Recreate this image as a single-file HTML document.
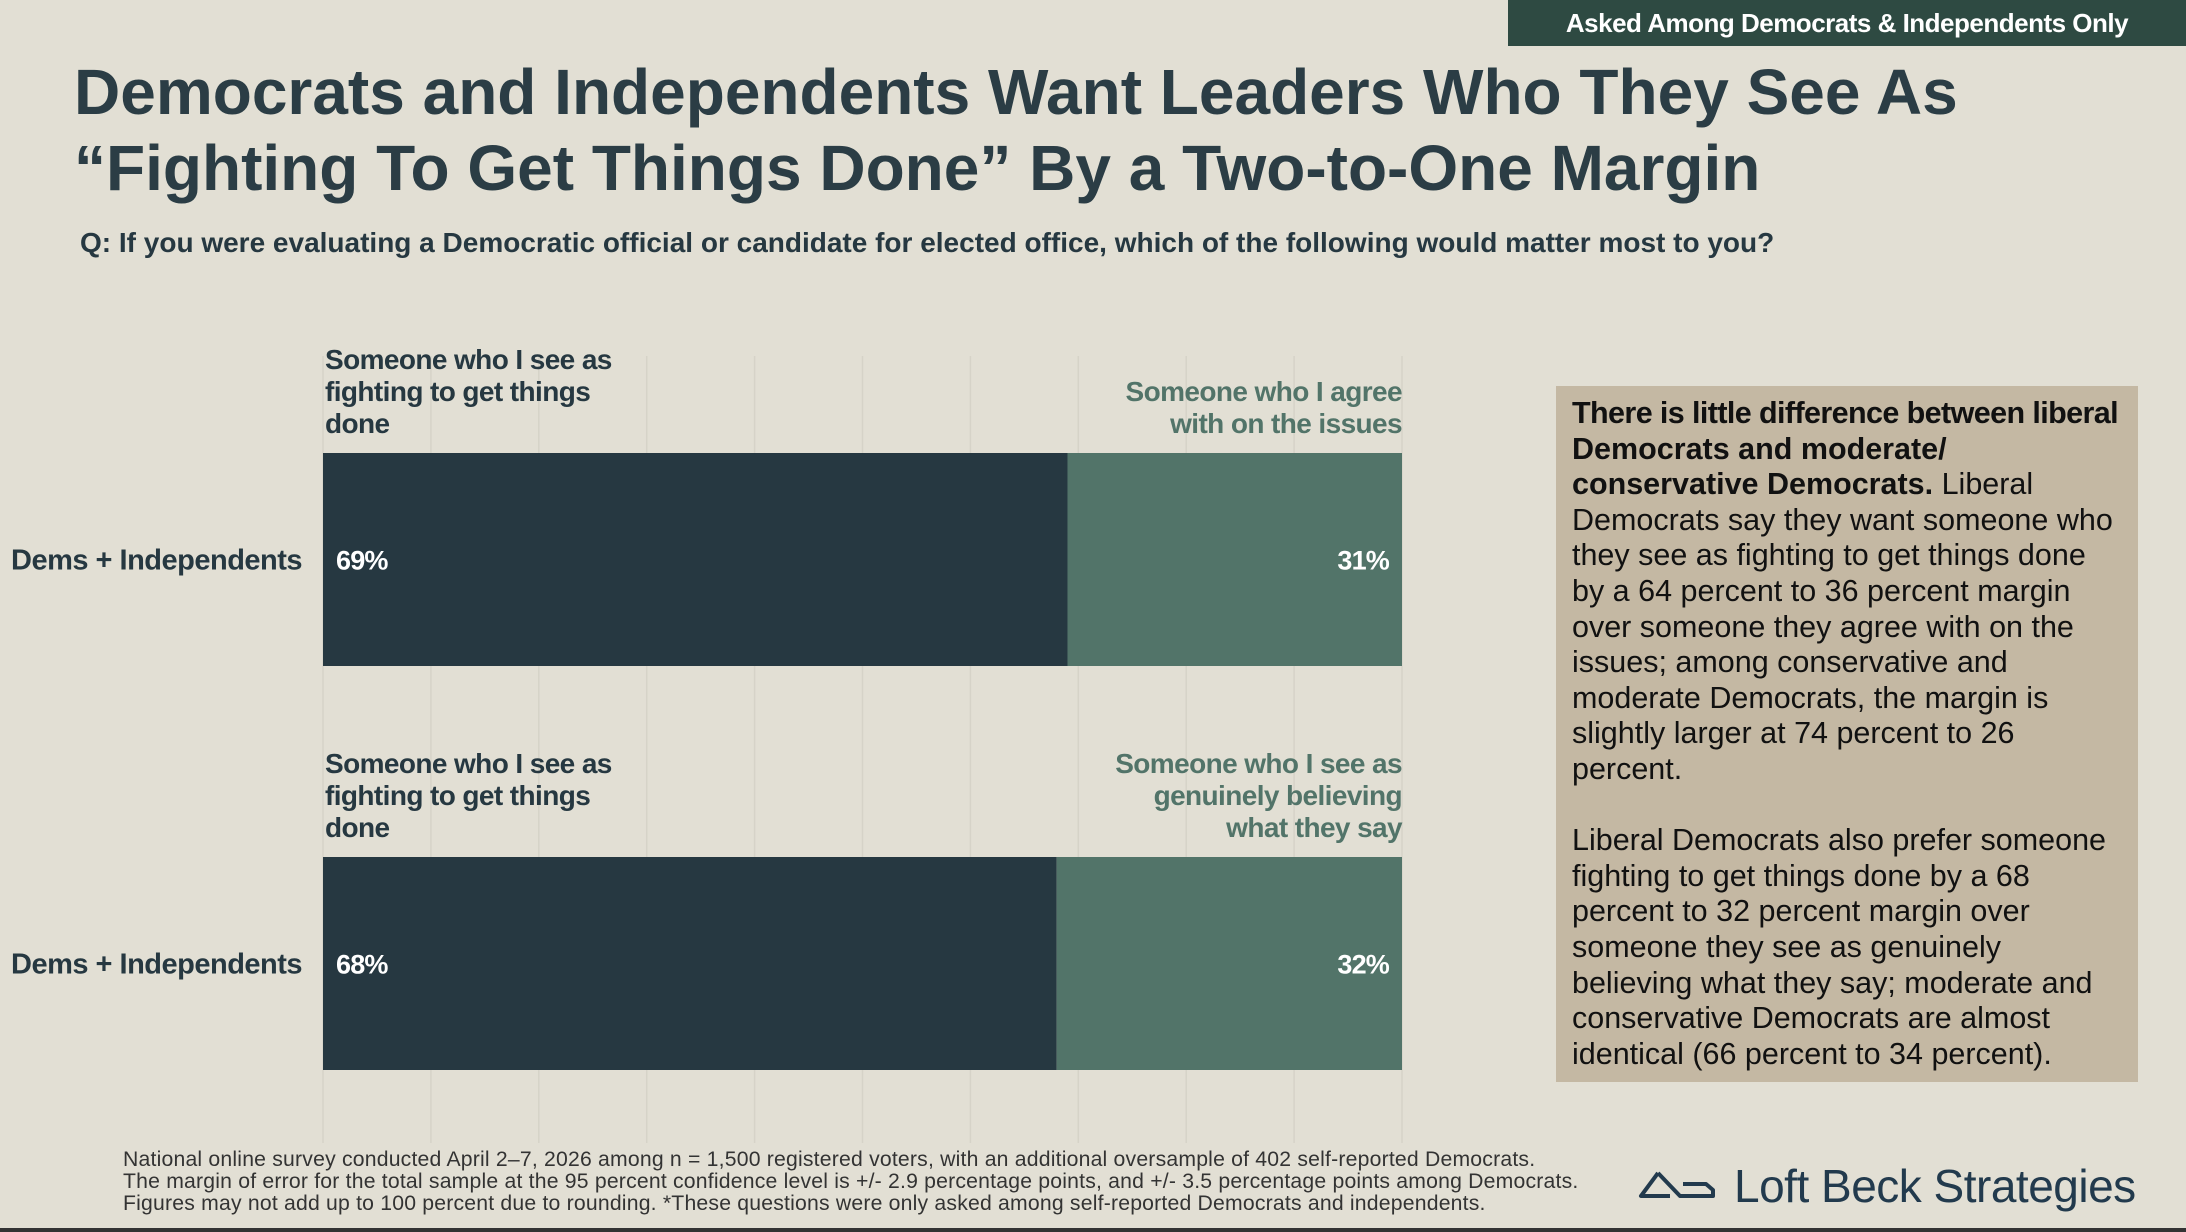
<!DOCTYPE html>
<html><head><meta charset="utf-8"><style>
body{margin:0;width:2186px;height:1232px;background:#e2dfd4;position:relative;overflow:hidden;font-family:"Liberation Sans",sans-serif;color:#263841}
.a{position:absolute}
.b{font-weight:bold}
</style></head><body>
<div class="a b" style="left:1508px;top:0;width:678px;height:46px;background:#2e4a42;color:#fff;font-size:26px;line-height:46px;text-align:center;letter-spacing:-0.5px">Asked Among Democrats &amp; Independents Only</div>
<div class="a b" style="left:74px;top:54px;font-size:64px;line-height:76px;letter-spacing:0px;color:#2b3d45">Democrats and Independents Want Leaders Who They See As<br>“Fighting To Get Things Done” By a Two-to-One Margin</div>
<div class="a b" style="left:80px;top:227px;font-size:28px;letter-spacing:0px">Q: If you were evaluating a Democratic official or candidate for elected office, which of the following would matter most to you?</div>
<svg class="a" style="left:0;top:0" width="2186" height="1232">
<g id="g"></g>
</svg>
<div class="a" style="left:1556px;top:386px;width:582px;height:696px;background:#c4b8a3;padding:10px 20px 0 16px;box-sizing:border-box;font-size:30.5px;line-height:35.6px;color:#111;letter-spacing:0px"><b><span style="letter-spacing:-0.6px;white-space:nowrap">There is little difference between liberal</span><br>Democrats and moderate/<br>conservative Democrats.</b> Liberal Democrats say they want someone who they see as fighting to get things done by a 64 percent to 36 percent margin over someone they agree with on the issues; among conservative and moderate Democrats, the margin is slightly larger at 74 percent to 26 percent.<br><br>Liberal Democrats also prefer someone fighting to get things done by a 68 percent to 32 percent margin over someone they see as genuinely believing what they say; moderate and conservative Democrats are almost identical (66 percent to 34 percent).</div>
<div class="a" style="left:123px;top:1149px;font-size:21.2px;line-height:22px;color:#333;letter-spacing:0.2px">National online survey conducted April 2–7, 2026 among n = 1,500 registered voters, with an additional oversample of 402 self-reported Democrats.<br>The margin of error for the total sample at the 95 percent confidence level is +/- 2.9 percentage points, and +/- 3.5 percentage points among Democrats.<br>Figures may not add up to 100 percent due to rounding. *These questions were only asked among self-reported Democrats and independents.</div>
<svg class="a" style="left:1638px;top:1168px" width="84" height="40"><path d="M20 5 L3 28 L32 28 M20 5 L42 28 L75 28 L75 22 L68 16 L45 16" fill="none" stroke="#223a4d" stroke-width="4" stroke-linejoin="round"/></svg>
<div class="a" style="left:1734px;top:1159px;font-size:46px;color:#223a4d;letter-spacing:-0.5px">Loft Beck Strategies</div>
<div class="a" style="left:0;top:1228px;width:2186px;height:4px;background:#333"></div>
<script>
const categories=["Dems + Independents","Dems + Independents"];
const leftValues=[69,68];
const rightValues=[31,32];
const leftLabels=[["Someone who I see as","fighting to get things","done"],["Someone who I see as","fighting to get things","done"]];
const rightLabels=[["Someone who I agree","with on the issues"],["Someone who I see as","genuinely believing","what they say"]];
const ticks=[0,10,20,30,40,50,60,70,80,90,100];
const X0=323,X1=1402;
const x=v=>X0+(X1-X0)*v/100;
const rowTop=[453,857],BH=213;
const NS="http://www.w3.org/2000/svg";
const g=document.getElementById('g');
function mk(t,a){const e=document.createElementNS(NS,t);for(const k in a)e.setAttribute(k,a[k]);g.appendChild(e);return e;}
ticks.forEach(t=>{const l=mk('line',{x1:x(t),x2:x(t),y1:356,y2:1143,stroke:'#d6d3c8','stroke-width':1.5});

});
categories.forEach((c,i)=>{
const y=rowTop[i];
const b1=mk('rect',{x:x(0),y:y,width:x(leftValues[i])-x(0),height:BH,fill:'#263841'});


const b2=mk('rect',{x:x(leftValues[i]),y:y,width:x(leftValues[i]+rightValues[i])-x(leftValues[i]),height:BH,fill:'#527469'});


const st='font-family:Liberation Sans,sans-serif;font-weight:bold;letter-spacing:-0.8px';
const t1=mk('text',{x:x(0)+13,y:y+BH/2+10,fill:'#fff','font-size':27,style:st});t1.textContent=leftValues[i]+'%';


const t2=mk('text',{x:x(leftValues[i]+rightValues[i])-13,y:y+BH/2+10,fill:'#fff','font-size':27,'text-anchor':'end',style:st});t2.textContent=rightValues[i]+'%';


const cl=mk('text',{x:11,y:y+BH/2+10,fill:'#263841','font-size':29,style:'font-family:Liberation Sans,sans-serif;font-weight:bold;letter-spacing:-0.5px'});cl.textContent=c;


leftLabels[i].forEach((s,j)=>{const t=mk('text',{x:x(0)+2,y:y-84+j*32,fill:'#263841','font-size':28,style:st+';letter-spacing:-0.6px'});t.textContent=s;

});
const n=rightLabels[i].length;
rightLabels[i].forEach((s,j)=>{const t=mk('text',{x:x(100),y:y-20-(n-1-j)*32,fill:'#527469','font-size':28,'text-anchor':'end',style:st+';letter-spacing:-0.6px'});t.textContent=s;

});
});
</script>
</body></html>
